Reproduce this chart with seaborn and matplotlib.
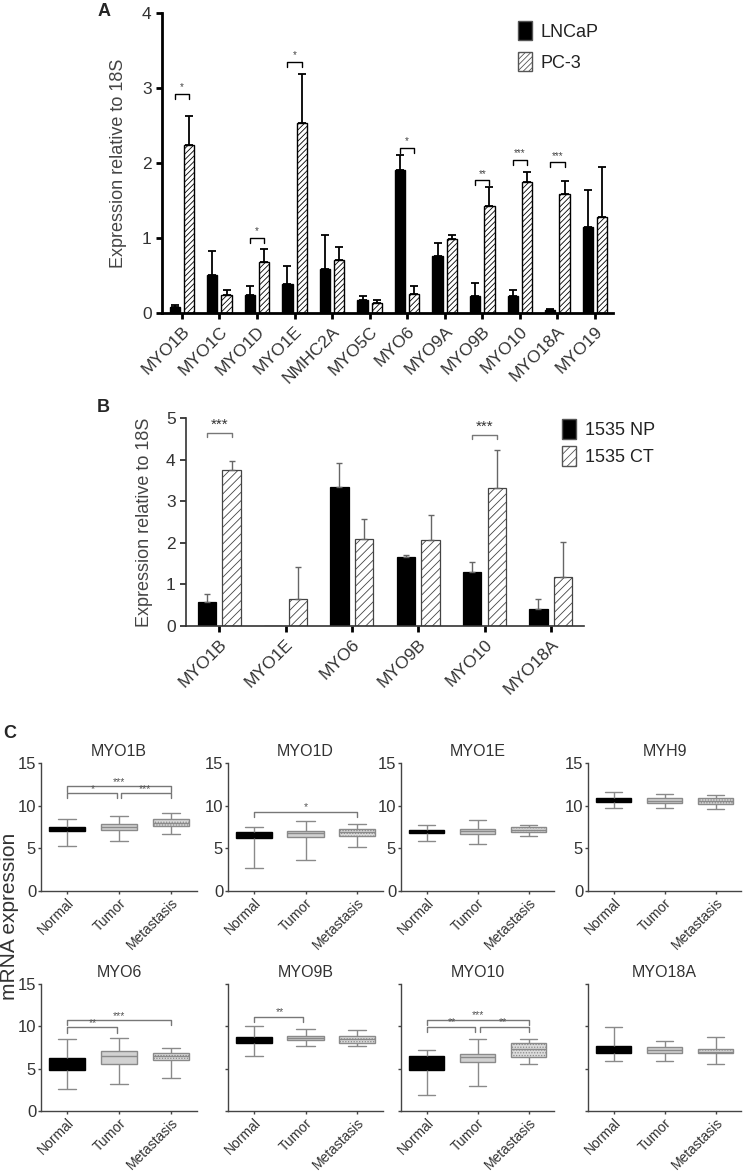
import numpy as np
import pandas as pd
import matplotlib
matplotlib.use("Agg")
import matplotlib.pyplot as plt
from matplotlib.patches import Patch
import seaborn as sns

sns.set_theme(style="ticks")
plt.rcParams["font.family"] = ["Liberation Sans", "DejaVu Sans"]
plt.rcParams["hatch.linewidth"] = 0.6

# ---------------- Panel A data ----------------
genes_a = ["MYO1B", "MYO1C", "MYO1D", "MYO1E", "NMHC2A", "MYO5C", "MYO6",
           "MYO9A", "MYO9B", "MYO10", "MYO18A", "MYO19"]
lncap_mean = [0.08, 0.51, 0.24, 0.39, 0.59, 0.17, 1.91, 0.76, 0.22, 0.23, 0.04, 1.15]
lncap_top = [0.10, 0.82, 0.36, 0.62, 1.04, 0.22, 2.10, 0.93, 0.40, 0.31, 0.05, 1.64]
pc3_mean = [2.24, 0.24, 0.68, 2.53, 0.70, 0.13, 0.25, 0.98, 1.43, 1.75, 1.59, 1.28]
pc3_top = [2.62, 0.30, 0.85, 3.19, 0.88, 0.17, 0.36, 1.04, 1.68, 1.88, 1.76, 1.95]
sig_a_idx = [0, 2, 3, 6, 8, 9, 10]
sig_a_txt = ["*", "*", "*", "*", "**", "***", "***"]
sig_a_h = [2.92, 1.0, 3.35, 2.2, 1.77, 2.04, 2.01]

# ---------------- Panel B data ----------------
genes_b = ["MYO1B", "MYO1E", "MYO6", "MYO9B", "MYO10", "MYO18A"]
np_mean = [0.58, 0.0, 3.34, 1.66, 1.29, 0.41]
np_top = [0.76, 0.0, 3.93, 1.71, 1.54, 0.64]
ct_mean = [3.74, 0.64, 2.10, 2.06, 3.32, 1.18]
ct_top = [3.97, 1.41, 2.58, 2.67, 4.22, 2.02]
sig_b_idx = [0, 4]
sig_b_txt = ["***", "***"]
sig_b_h = [4.64, 4.60]

# ---------------- Panel C data (min, q1, median, q3, max) ----------------
groups_c = ["Normal", "Tumor", "Metastasis"]
genes_c = ["MYO1B", "MYO1D", "MYO1E", "MYH9", "MYO6", "MYO9B", "MYO10", "MYO18A"]
c_normal = [[5.3, 7.03, 7.2, 7.54, 8.4], [2.7, 6.24, 6.6, 6.95, 7.54],
            [5.9, 6.8, 7.0, 7.2, 7.75], [9.7, 10.4, 10.7, 10.9, 11.55],
            [2.57, 4.86, 5.6, 6.24, 8.5], [6.5, 8.09, 8.4, 8.69, 10.03],
            [1.85, 4.9, 5.7, 6.5, 7.2], [5.95, 6.9, 7.3, 7.65, 9.95]]
c_tumor = [[5.85, 7.15, 7.45, 7.81, 8.83], [3.65, 6.36, 6.75, 7.07, 8.24],
           [5.5, 6.7, 7.0, 7.3, 8.3], [9.75, 10.3, 10.6, 10.85, 11.35],
           [3.2, 5.6, 6.5, 7.07, 8.6], [7.66, 8.33, 8.6, 8.88, 9.67],
           [2.9, 5.84, 6.36, 6.78, 8.45], [5.95, 6.87, 7.2, 7.57, 8.3]]
c_meta = [[6.67, 7.58, 8.0, 8.4, 9.19], [5.1, 6.48, 6.9, 7.3, 7.81],
          [6.4, 6.9, 7.15, 7.45, 7.75], [9.65, 10.2, 10.55, 10.9, 11.2],
          [3.87, 6.04, 6.5, 6.9, 7.42], [7.66, 8.09, 8.5, 8.88, 9.55],
          [5.6, 6.4, 7.35, 8.0, 8.5], [5.5, 6.8, 7.0, 7.3, 8.7]]
# significance brackets per gene: (from, to, height, label)
sig_c = {
    "MYO1B": [(0, 2, 12.25, "***"), (0, 1, 11.46, "*"), (1, 2, 11.46, "***")],
    "MYO1D": [(0, 2, 9.3, "*")],
    "MYO6": [(0, 1, 9.87, "**"), (0, 2, 10.7, "***")],
    "MYO9B": [(0, 1, 11.1, "**")],
    "MYO10": [(0, 2, 10.8, "***"), (0, 1, 9.95, "**"), (1, 2, 9.95, "**")],
}

W, H = 744, 1174
fig = plt.figure(figsize=(W / 100, H / 100), dpi=100)


def px_axes(left, right, top, bottom):
    return fig.add_axes([left / W, 1 - bottom / H, (right - left) / W, (bottom - top) / H])


TXT = "#333333"

# ================= Panel A =================
axA = px_axes(162, 613, 13, 313)
dfA = pd.DataFrame({
    "gene": genes_a * 2,
    "line": ["LNCaP"] * len(genes_a) + ["PC-3"] * len(genes_a),
    "value": lncap_mean + pc3_mean,
})
sns.barplot(data=dfA, x="gene", y="value", hue="line", order=genes_a,
            palette={"LNCaP": "black", "PC-3": "white"}, edgecolor="black",
            linewidth=1.0, errorbar=None, width=0.76, gap=0.28, legend=False, ax=axA)
for b in axA.containers[1]:
    b.set_hatch("//////")
for cont, means, tops in [(axA.containers[0], lncap_mean, lncap_top),
                          (axA.containers[1], pc3_mean, pc3_top)]:
    for b, m, t in zip(cont, means, tops):
        xc = b.get_x() + b.get_width() / 2
        if t > m:
            axA.errorbar(xc, m, yerr=[[0], [t - m]], fmt="none", ecolor="black",
                         elinewidth=1.3, capsize=3, capthick=1.3, zorder=1)
for i, txt, h in zip(sig_a_idx, sig_a_txt, sig_a_h):
    x0, x1 = i - 0.19, i + 0.19
    axA.plot([x0, x0, x1, x1], [h - 0.07, h, h, h - 0.07], color="black", lw=1.0)
    axA.text(i, h + 0.02, txt, ha="center", va="bottom", fontsize=7, color="#444444")
axA.set_ylim(0, 4)
axA.set_xlim(-0.53, 11.48)
axA.set_yticks([0, 1, 2, 3, 4])
axA.set_xlabel("")
axA.set_ylabel("Expression relative to 18S", fontsize=13, color="#444444", labelpad=11)
sns.despine(ax=axA)
for s in ["left", "bottom"]:
    axA.spines[s].set_linewidth(2)
    axA.spines[s].set_color("black")
axA.tick_params(axis="both", length=4, width=2, color="black", labelsize=12.5,
                labelcolor=TXT)
plt.setp(axA.get_xticklabels(), rotation=45, ha="right", rotation_mode="anchor",
         fontsize=12.5)
axA.legend(handles=[Patch(facecolor="black", edgecolor="#555555"),
                    Patch(facecolor="white", edgecolor="#555555", hatch="//////")],
           labels=["LNCaP", "PC-3"], loc="upper left",
           bbox_to_anchor=(518 / W, 1 - 21 / H), bbox_transform=fig.transFigure,
           frameon=False, fontsize=13, handlelength=0.75, handleheight=1.25,
           handletextpad=0.5, labelspacing=0.65, borderpad=0, borderaxespad=0,
           labelcolor="#222222")

# ================= Panel B =================
axB = px_axes(186, 584, 418, 626)
dfB = pd.DataFrame({
    "gene": genes_b * 2,
    "line": ["1535 NP"] * len(genes_b) + ["1535 CT"] * len(genes_b),
    "value": np_mean + ct_mean,
})
sns.barplot(data=dfB, x="gene", y="value", hue="line", order=genes_b,
            palette={"1535 NP": "black", "1535 CT": "white"}, edgecolor="#444444",
            linewidth=0.9, errorbar=None, width=0.75, gap=0.26, legend=False, ax=axB)
for b in axB.containers[0]:
    b.set_edgecolor("black")
for b in axB.containers[1]:
    b.set_hatch("////")
for cont, means, tops in [(axB.containers[0], np_mean, np_top),
                          (axB.containers[1], ct_mean, ct_top)]:
    for b, m, t in zip(cont, means, tops):
        xc = b.get_x() + b.get_width() / 2
        if t > m:
            axB.errorbar(xc, m, yerr=[[0], [t - m]], fmt="none", ecolor="#666666",
                         elinewidth=1.0, capsize=2, capthick=1.0, zorder=1)
for i, txt, h in zip(sig_b_idx, sig_b_txt, sig_b_h):
    x0, x1 = i - 0.19, i + 0.19
    axB.plot([x0, x0, x1, x1], [h - 0.1, h, h, h - 0.1], color="#777777", lw=1.0)
    axB.text(i, h + 0.03, txt, ha="center", va="bottom", fontsize=11, color="#333333")
axB.set_ylim(0, 5)
axB.set_xlim(-0.5, 5.5)
axB.set_yticks([0, 1, 2, 3, 4, 5])
axB.set_xlabel("")
axB.set_ylabel("Expression relative to 18S", fontsize=13, color="#444444", labelpad=9)
sns.despine(ax=axB)
for s in ["left", "bottom"]:
    axB.spines[s].set_linewidth(1.2)
    axB.spines[s].set_color("#333333")
axB.tick_params(axis="both", length=4, width=1.2, color="#222222", labelsize=12.5,
                labelcolor=TXT)
axB.tick_params(axis="x", width=2, color="black")
plt.setp(axB.get_xticklabels(), rotation=45, ha="right", rotation_mode="anchor",
         fontsize=12.5)
axB.legend(handles=[Patch(facecolor="black", edgecolor="#555555"),
                    Patch(facecolor="white", edgecolor="#555555", hatch="////")],
           labels=["1535 NP", "1535 CT"], loc="upper left",
           bbox_to_anchor=(562 / W, 1 - 419 / H), bbox_transform=fig.transFigure,
           frameon=False, fontsize=13, handlelength=0.75, handleheight=1.3,
           handletextpad=0.5, labelspacing=0.4, borderpad=0, borderaxespad=0,
           labelcolor="#222222")

# ================= Panel C =================
cols = [(41, 197), (228, 383), (401, 554), (588, 741)]
rows = [(763, 891), (984, 1111)]
styles = {
    "Normal": dict(fill="black", edge="black", med="black", hatch=None),
    "Tumor": dict(fill="#d2d2d2", edge="#8a8a8a", med="#8a8a8a", hatch=None),
    "Metastasis": dict(fill="#dcdcdc", edge="#8a8a8a", med="#8a8a8a", hatch="......"),
}
for k, gene in enumerate(genes_c):
    r, c = divmod(k, 4)
    ax = px_axes(cols[c][0], cols[c][1], rows[r][0], rows[r][1])
    for grp, src in zip(groups_c, [c_normal, c_tumor, c_meta]):
        st = styles[grp]
        d = pd.DataFrame({"group": [grp] * 5, "val": src[k]})
        npatch = len(ax.patches)
        sns.boxplot(data=d, x="group", y="val", order=groups_c, whis=(0, 100),
                    showfliers=False, width=0.7, color=st["fill"],
                    linecolor="#8a8a8a", linewidth=1.0, saturation=1,
                    boxprops=dict(edgecolor=st["edge"]),
                    medianprops=dict(color=st["med"]), ax=ax)
        for p in ax.patches[npatch:]:
            p.set_facecolor(st["fill"])
            p.set_edgecolor(st["edge"])
            if st["hatch"]:
                p.set_hatch(st["hatch"])
    for (i, j, h, txt) in sig_c.get(gene, []):
        x0 = i + (0.04 if i == 1 else 0)
        x1 = j - (0.04 if j == 1 else 0)
        ax.plot([x0, x0, x1, x1], [h - 0.6, h, h, h - 0.6], color="#777777", lw=1.0)
        ax.text((i + j) / 2, h - 0.05, txt, ha="center", va="bottom", fontsize=7.5,
                color="#555555")
    ax.set_ylim(0, 15)
    ax.set_xlim(-0.5, 2.5)
    ax.set_yticks([0, 5, 10, 15])
    ax.set_xlabel("")
    ax.set_ylabel("")
    ax.set_title(gene, fontsize=11.5, color=TXT, pad=5)
    sns.despine(ax=ax)
    for s in ["left", "bottom"]:
        ax.spines[s].set_linewidth(1.0)
        ax.spines[s].set_color("#444444")
    ax.tick_params(axis="both", length=2.5, width=1.0, color="#444444", labelsize=12,
                   labelcolor=TXT, pad=1)
    if r == 1 and c > 0:
        ax.set_yticklabels([])
    plt.setp(ax.get_xticklabels(), rotation=45, ha="right", rotation_mode="anchor",
             fontsize=10)

fig.text(10 / W, 1 - 916 / H, "mRNA expression", rotation=90, ha="center",
         va="center", fontsize=15, color=TXT)

# panel labels
fig.text(98 / W, 1 - 11 / H, "A", fontsize=13, fontweight="bold", va="center")
fig.text(97 / W, 1 - 407 / H, "B", fontsize=13, fontweight="bold", va="center")
fig.text(3 / W, 1 - 734 / H, "C", fontsize=13, fontweight="bold", va="center")

fig.savefig("out.png", dpi=100)
